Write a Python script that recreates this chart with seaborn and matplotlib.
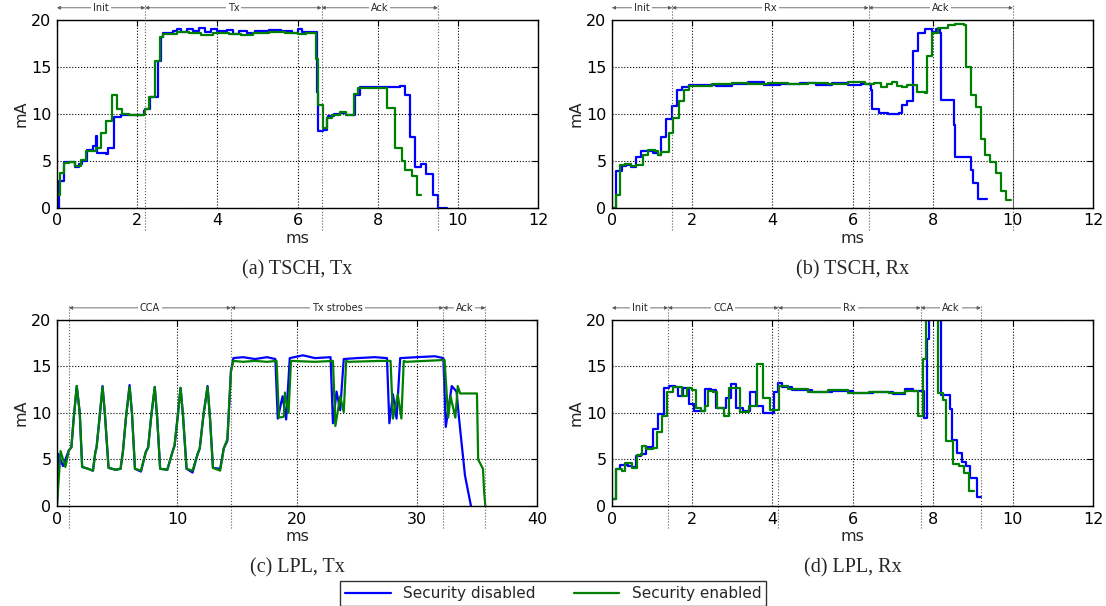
import matplotlib
matplotlib.use("Agg")
import matplotlib.pyplot as plt
import matplotlib.transforms as mtrans
import seaborn as sns
import numpy as np

# (a) TSCH, Tx
a_dis_t = [0.0, 0.05, 0.18, 0.44, 0.55, 0.62, 0.75, 0.9, 0.97, 1.01, 1.23, 1.28, 1.43, 1.6, 2.16, 2.2, 2.33, 2.51, 2.6,
           2.64, 2.9, 3.0, 3.1, 3.25, 3.4, 3.55, 3.7, 3.85, 4.0, 4.25, 4.4, 4.55, 4.75, 4.95, 5.3, 5.6, 5.85, 6.0, 6.1,
           6.48, 6.52, 6.63, 6.74, 6.77, 6.9, 7.05, 7.2, 7.43, 7.55, 8.55, 8.68, 8.81, 8.94, 9.07, 9.2, 9.37, 9.5, 9.74]
a_dis_v = [0.0, 2.9, 4.9, 4.4, 4.7, 5.0, 6.2, 6.6, 7.6, 5.8, 5.7, 6.4, 9.7, 9.9, 10.3, 10.5, 11.8, 15.6, 18.2,
           18.6, 18.8, 19.0, 18.7, 19.0, 18.8, 19.2, 18.7, 19.0, 18.8, 18.9, 18.5, 18.8, 18.6, 18.8, 18.9, 18.8, 18.6, 19.0, 18.7,
           12.3, 8.2, 8.3, 9.6, 9.8, 10.0, 10.1, 9.9, 12.0, 12.9, 13.0, 12.0, 7.5, 4.4, 4.7, 3.6, 1.4, 0.0, 0.0]
a_enc_t = [0.0, 0.07, 0.18, 0.31, 0.46, 0.6, 0.72, 0.97, 1.1, 1.23, 1.37, 1.5, 1.63, 1.8, 2.16, 2.2, 2.29, 2.44, 2.56,
           2.64, 3.0, 3.3, 3.6, 3.9, 4.3, 4.6, 4.9, 5.3, 5.7, 6.0, 6.2, 6.46,
           6.5, 6.63, 6.74, 6.85, 7.05, 7.2, 7.4, 7.52, 8.24, 8.28, 8.42, 8.6, 8.68, 8.85, 8.99, 9.07]
a_enc_v = [1.4, 3.7, 4.8, 4.9, 4.5, 5.1, 6.1, 6.4, 8.0, 9.2, 12.0, 10.5, 10.0, 9.9, 10.0, 10.5, 11.8, 15.6, 18.2,
           18.5, 18.7, 18.6, 18.4, 18.6, 18.5, 18.4, 18.6, 18.7, 18.6, 18.5, 18.6, 15.9,
           11.0, 8.5, 9.6, 9.9, 10.2, 9.9, 12.1, 12.8, 10.6, 10.6, 6.4, 5.0, 4.0, 3.4, 1.4, 1.4]

# (b) TSCH, Rx
b_dis_t = [0.0, 0.09, 0.24, 0.36, 0.48, 0.59, 0.72, 0.9, 1.03, 1.15, 1.23, 1.36, 1.5, 1.62, 1.74, 1.91, 2.6, 3.0, 3.4,
           3.8, 4.2, 4.7, 5.1, 5.5, 5.9, 6.2, 6.45, 6.49, 6.67, 6.89, 7.15, 7.24, 7.37, 7.5, 7.64, 7.81, 7.99, 8.08,
           8.17, 8.21, 8.52, 8.56, 8.68, 8.96, 9.0, 9.14, 9.25, 9.36]
b_dis_v = [0.0, 3.9, 4.5, 4.6, 4.4, 5.4, 6.0, 6.1, 5.8, 5.6, 7.5, 9.5, 10.8, 12.5, 12.9, 13.1, 13.0, 13.2, 13.4,
           13.1, 13.2, 13.3, 13.1, 13.3, 13.1, 13.2, 12.5, 10.5, 10.1, 10.0, 10.1, 11.0, 11.4, 16.7, 18.6, 19.0, 18.7, 19.0,
           18.6, 11.5, 8.8, 5.4, 5.4, 4.0, 2.6, 0.9, 0.9, 0.9]
b_enc_t = [0.0, 0.09, 0.21, 0.33, 0.48, 0.59, 0.77, 0.9, 1.07, 1.15, 1.23, 1.43, 1.53, 1.66, 1.8, 1.91, 2.5, 3.0, 3.4,
           3.9, 4.4, 4.9, 5.4, 5.9, 6.3, 6.54, 6.7, 6.85, 6.98, 7.11, 7.24, 7.37, 7.6, 7.81, 7.86, 7.99, 8.12, 8.3, 8.39,
           8.55, 8.78, 8.83, 8.96, 9.07, 9.2, 9.31, 9.44, 9.58, 9.71, 9.84, 9.96]
b_enc_v = [0.0, 1.4, 4.6, 4.7, 4.5, 4.6, 5.6, 6.2, 6.0, 5.6, 5.9, 8.0, 9.6, 11.4, 12.6, 13.0, 13.2, 13.3, 13.2,
           13.3, 13.2, 13.3, 13.2, 13.4, 13.2, 13.3, 12.9, 13.2, 13.4, 13.0, 12.9, 13.1, 12.3, 12.2, 16.2, 18.6, 19.1, 19.2, 19.5,
           19.6, 19.5, 15.0, 12.0, 10.7, 7.3, 5.6, 4.9, 3.7, 1.8, 0.8, 0.8]

# (c) LPL, Tx
c_dis_t = [0.0, 0.1, 0.5, 1.0, 1.2, 1.4, 1.65, 1.9, 2.1, 2.6, 3.0, 3.2, 3.3, 3.55, 3.8, 4.0, 4.3, 4.9, 5.3, 5.5, 5.75,
           6.05, 6.25, 6.5, 7.0, 7.4, 7.6, 7.85, 8.15, 8.35, 8.6, 9.2, 9.6, 9.8, 10.05, 10.3, 10.5, 10.8, 11.3, 11.7,
           11.9, 12.2, 12.55, 12.75, 13.0, 13.6, 13.9, 14.2, 14.5, 14.7, 15.5, 16.5, 17.5, 18.2, 18.4, 18.8, 19.1, 19.4,
           20.5, 21.5, 22.8, 23.0, 23.3, 23.6, 23.9, 25.0, 26.5, 27.5, 27.7, 28.0, 28.3, 28.6, 30.0, 31.5, 32.2, 32.4,
           32.9, 33.3, 33.5, 33.7, 34.0, 34.5]
c_dis_v = [0.0, 5.6, 4.3, 6.0, 6.3, 9.5, 12.9, 10.0, 4.2, 4.0, 3.8, 5.8, 6.3, 9.5, 12.9, 9.8, 4.1, 3.9, 4.0, 5.9, 9.5,
           13.0, 10.0, 4.0, 3.7, 5.8, 6.3, 9.6, 12.8, 9.5, 4.0, 3.9, 5.7, 6.5, 9.5, 12.7, 9.8, 4.0, 3.6, 5.5,
           6.2, 9.7, 12.9, 9.5, 4.1, 4.0, 6.2, 7.0, 14.5, 15.9, 16.0, 15.8, 16.0, 15.8, 9.4, 11.8, 9.3, 15.9,
           16.2, 15.9, 16.0, 8.9, 12.3, 10.3, 15.8, 15.9, 16.0, 15.9, 8.9, 12.0, 9.4, 15.9, 16.0, 16.1, 15.9, 8.5,
           12.9, 12.3, 9.5, 7.0, 3.3, 0.0]
c_enc_t = [0.0, 0.3, 0.7, 1.0, 1.2, 1.4, 1.65, 1.9, 2.1, 2.6, 3.0, 3.2, 3.3, 3.55, 3.8, 4.0, 4.3, 4.9, 5.3, 5.5, 5.75,
           6.05, 6.25, 6.5, 7.0, 7.4, 7.6, 7.85, 8.15, 8.35, 8.6, 9.2, 9.6, 9.8, 10.05, 10.3, 10.5, 10.8, 11.3, 11.7,
           11.9, 12.2, 12.55, 12.75, 13.0, 13.6, 13.9, 14.2, 14.5, 14.7, 15.5, 16.5, 17.5, 18.3, 18.5, 18.9, 19.0, 19.3,
           19.5, 21.5, 23.0, 23.2, 23.6, 23.9, 24.1, 24.3, 27.0, 27.8, 28.0, 28.4, 28.7, 28.9, 29.1, 32.3, 32.6, 32.8,
           33.2, 33.4, 33.6, 35.0, 35.1, 35.5, 35.6, 35.7]
c_enc_v = [0.0, 5.9, 4.2, 6.0, 6.3, 9.5, 12.9, 10.0, 4.2, 4.0, 3.8, 5.8, 6.3, 9.5, 12.8, 9.8, 4.1, 3.9, 4.0, 5.9, 9.5,
           12.8, 10.0, 4.0, 3.8, 5.8, 6.3, 9.6, 12.8, 9.5, 4.0, 3.9, 5.7, 6.5, 9.5, 12.7, 9.8, 4.0, 3.8, 5.5,
           6.2, 9.7, 12.8, 9.5, 4.1, 3.8, 6.2, 7.2, 14.5, 15.6, 15.5, 15.6, 15.5, 15.6, 9.5, 9.6, 12.2, 10.0,
           15.6, 15.5, 15.6, 8.6, 11.8, 10.1, 15.6, 15.5, 15.6, 15.6, 9.4, 12.0, 9.4, 15.6, 15.5, 15.7, 9.5, 11.8,
           9.5, 12.9, 12.1, 12.1, 5.0, 4.0, 1.5, 0.0]

# (d) LPL, Rx
d_dis_t = [0.0, 0.09, 0.19, 0.4, 0.5, 0.59, 0.72, 0.85, 1.03, 1.16, 1.3, 1.43, 1.57, 1.65, 1.78, 1.91, 2.04, 2.31, 2.46,
           2.59, 2.84, 2.97, 3.1, 3.28, 3.45, 3.59, 3.76, 4.03, 4.13, 4.25, 4.5, 5.0, 5.5, 6.0, 6.5, 7.0, 7.3, 7.5, 7.79,
           7.86, 7.9, 7.95, 8.21, 8.26, 8.43, 8.49, 8.6, 8.74, 8.84, 8.92, 9.1, 9.2]
d_dis_v = [0.8, 4.0, 4.4, 4.3, 4.2, 5.4, 5.6, 6.3, 8.3, 9.9, 12.7, 12.9, 12.8, 11.8, 12.7, 11.0, 10.2, 12.6, 12.5,
           10.5, 11.6, 13.1, 10.5, 10.2, 12.3, 10.7, 10.0, 12.3, 13.2, 12.8, 12.5, 12.3, 12.4, 12.2, 12.3, 12.0, 12.6, 12.4, 9.5,
           18.0, 23.0, 25.0, 11.9, 11.9, 10.4, 7.1, 5.7, 4.7, 4.3, 3.0, 1.0, 1.0]
d_enc_t = [0.0, 0.09, 0.24, 0.33, 0.5, 0.63, 0.74, 0.85, 1.03, 1.12, 1.25, 1.38, 1.52, 1.74, 1.87, 2.0, 2.09, 2.22, 2.31,
           2.4, 2.53, 2.62, 2.79, 2.93, 3.19, 3.41, 3.63, 3.76, 3.94, 4.16, 4.4, 4.9, 5.4, 5.9, 6.4, 6.9, 7.3, 7.64,
           7.75, 7.84, 8.12, 8.26, 8.34, 8.5, 8.65, 8.78, 8.9, 9.02]
d_enc_v = [0.8, 4.0, 3.8, 4.6, 4.1, 5.5, 6.5, 6.1, 6.2, 8.0, 9.7, 12.3, 12.8, 11.8, 12.7, 12.5, 10.5, 10.2, 10.7,
           12.4, 12.3, 10.5, 9.7, 12.7, 10.1, 10.7, 15.3, 11.6, 10.3, 12.9, 12.6, 12.3, 12.5, 12.2, 12.3, 12.1, 12.4, 9.7,
           15.8, 24.0, 12.1, 11.4, 7.0, 4.5, 4.3, 3.5, 1.6, 1.6]

panels = [
    ("(a) TSCH, Tx", a_dis_t, a_dis_v, a_enc_t, a_enc_v, 12, [0, 2.2, 6.6, 9.5], ["Init", "Tx", "Ack"]),
    ("(b) TSCH, Rx", b_dis_t, b_dis_v, b_enc_t, b_enc_v, 12, [0, 1.5, 6.4, 10.0], ["Init", "Rx", "Ack"]),
    ("(c) LPL, Tx", c_dis_t, c_dis_v, c_enc_t, c_enc_v, 40, [1.0, 14.5, 32.2, 35.7], ["CCA", "Tx strobes", "Ack"]),
    ("(d) LPL, Rx", d_dis_t, d_dis_v, d_enc_t, d_enc_v, 12, [0, 1.4, 4.15, 7.7, 9.2], ["Init", "CCA", "Rx", "Ack"]),
]

sns.set_style("white")
plt.rcParams["font.family"] = ["DejaVu Sans"]

fig = plt.figure(figsize=(11.06, 6.06), dpi=100)
boxes = [(0.0515, 0.657, 0.435, 0.310), (0.5533, 0.657, 0.435, 0.310),
         (0.0515, 0.165, 0.434, 0.307), (0.5533, 0.165, 0.435, 0.307)]

for (title, t1, v1, t2, v2, xmax, bounds, names), box in zip(panels, boxes):
    ax = fig.add_axes(box)
    # the long LPL Tx trace reads better as a plain line, the short ones as steps
    style = "default" if xmax == 40 else "steps-post"
    sns.lineplot(x=t1, y=v1, ax=ax, color="#0000ff", lw=1.6, drawstyle=style,
                 estimator=None, label="Security disabled", legend=False)
    sns.lineplot(x=t2, y=v2, ax=ax, color="#008000", lw=1.6, drawstyle=style,
                 estimator=None, label="Security enabled", legend=False)
    ax.set_xlim(0, xmax)
    ax.set_ylim(0, 20)
    ax.set_xticks(np.arange(0, xmax + 1, 10 if xmax == 40 else 2))
    ax.set_yticks([0, 5, 10, 15, 20])
    ax.grid(True, color="k", linestyle=":", linewidth=0.8)
    for s in ax.spines.values():
        s.set_color("k")
        s.set_linewidth(1.0)
    ax.tick_params(direction="in", top=True, right=True, length=4, labelsize=11.5, pad=4, colors="k")
    ax.set_xlabel("ms", fontsize=11.5, labelpad=2)
    ax.set_ylabel("mA", fontsize=11.5, labelpad=2)
    ax.text(0.5, -0.33, title, transform=ax.transAxes, ha="center", va="center",
            fontsize=14.5, family="Liberation Serif")

    # phase annotations above each panel
    tr = mtrans.blended_transform_factory(ax.transData, ax.transAxes)
    for x in bounds:
        if x > 0:
            ax.plot([x, x], [-0.12, 1.08], transform=tr, color="0.35", lw=0.8,
                    linestyle=":", clip_on=False, zorder=5)
    for x0, x1, name in zip(bounds[:-1], bounds[1:], names):
        ax.annotate("", xy=(x1, 1.065), xytext=(x0, 1.065), xycoords=tr, textcoords=tr,
                    arrowprops=dict(arrowstyle="<|-|>", lw=0.6, color="0.35",
                                    mutation_scale=5, shrinkA=0, shrinkB=0))
        ax.text((x0 + x1) / 2, 1.065, name, transform=tr, ha="center", va="center", fontsize=7,
                color="0.15", bbox=dict(facecolor="white", edgecolor="none", pad=1.5))

handles, labels = fig.axes[0].get_legend_handles_labels()
leg = fig.legend(handles, labels, loc="lower center", bbox_to_anchor=(0.5, -0.012), ncol=2,
                 fontsize=11, frameon=True, fancybox=False, edgecolor="k", handlelength=3,
                 columnspacing=2.5, borderpad=0.3)
leg.get_frame().set_linewidth(1.0)

fig.savefig("out.png", dpi=100)
